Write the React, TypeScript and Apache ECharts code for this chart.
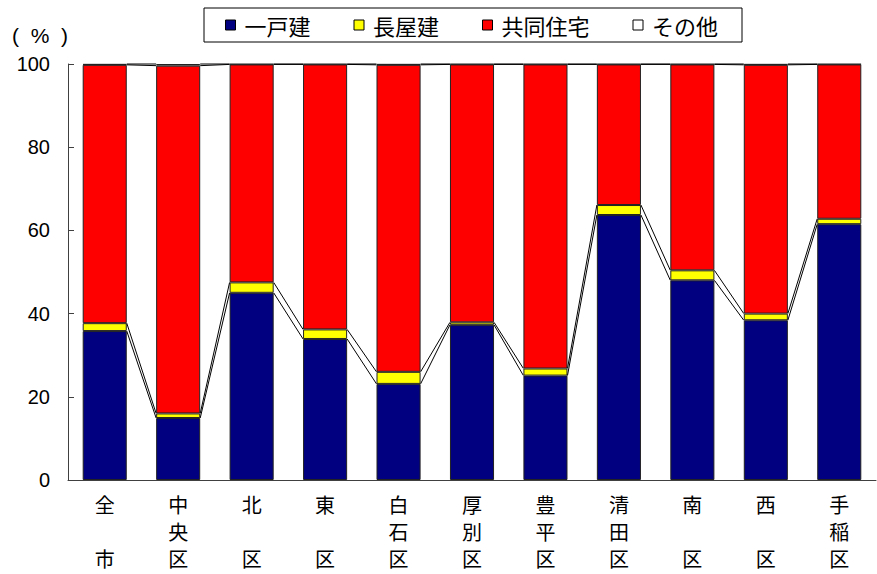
import React, { useEffect, useRef } from "react";
import * as echarts from "echarts";

// 区別の住宅の建て方別割合（%）
const categories = ["全\n\n市", "中\n央\n区", "北\n\n区", "東\n\n区", "白\n石\n区", "厚\n別\n区", "豊\n平\n区", "清\n田\n区", "南\n\n区", "西\n\n区", "手\n稲\n区"];
const detached = [35.8, 14.9, 45.0, 33.9, 23.1, 37.3, 25.1, 63.7, 48.0, 38.4, 61.5];
const rowHouse = [1.9, 1.1, 2.5, 2.3, 2.9, 0.6, 1.7, 2.4, 2.4, 1.6, 1.3];
const apartment = [62.1, 83.6, 52.4, 63.7, 73.8, 62.0, 73.1, 33.8, 49.5, 59.8, 37.1];
const other = [0.2, 0.4, 0.1, 0.1, 0.2, 0.1, 0.1, 0.1, 0.1, 0.2, 0.1];
const yTicks = { min: 0, max: 100, interval: 20 };

const seriesNames = ["一戸建", "長屋建", "共同住宅", "その他"];
const seriesColors = ["#000080", "#FFFF00", "#FF0000", "#FFFFFF"];
const seriesData = [detached, rowHouse, apartment, other];

const NUM_FONT = "'Liberation Sans', Arial, 'Noto Sans CJK JP', sans-serif";
const JP_FONT = "'Noto Sans CJK JP', 'Liberation Sans', sans-serif";

export default function App() {
  const ref = useRef<HTMLDivElement>(null);

  useEffect(() => {
    document.body.style.margin = "0";
    if (!ref.current) return;
    const chart = echarts.init(ref.current, undefined, { renderer: "svg" });

    // cumulative tops of each stacked layer, used for the series lines
    const tops: number[][] = seriesData.map(() => []);
    for (let i = 0; i < categories.length; i++) {
      let acc = 0;
      seriesData.forEach((arr, k) => {
        acc += arr[i];
        tops[k].push(acc);
      });
    }
    const lineData: number[][] = [];
    for (let i = 0; i < categories.length - 1; i++) {
      const row: number[] = [i];
      tops.forEach((t) => row.push(t[i], t[i + 1]));
      lineData.push(row);
    }

    const barSeries = seriesNames.map((name, k) => ({
      name,
      type: "bar",
      stack: "total",
      barCategoryGap: "40%",
      data: seriesData[k],
      itemStyle: { color: seriesColors[k], borderColor: "#222", borderWidth: 1 },
      emphasis: { disabled: true },
    }));

    chart.setOption({
      animation: false,
      grid: { left: 68, right: 1, top: 64, bottom: 94 },
      legend: {
        left: 204,
        top: 8,
        data: seriesNames.map((name) => ({ name, icon: "rect" })),
        itemWidth: 10,
        itemHeight: 10,
        itemGap: 43,
        padding: [6, 24, 6, 21],
        borderColor: "#000",
        borderWidth: 1,
        itemStyle: { borderColor: "#000", borderWidth: 1 },
        textStyle: { fontSize: 22, color: "#000", fontFamily: JP_FONT, padding: [0, 0, 0, 4] },
        selectedMode: false,
      },
      graphic: [
        {
          type: "text",
          left: 12,
          top: 25,
          style: { text: "(  %  )", fontSize: 21, fill: "#000", fontFamily: NUM_FONT },
        },
      ],
      xAxis: {
        type: "category",
        data: categories,
        axisLine: { show: true, lineStyle: { color: "#404040", width: 1 } },
        axisTick: { show: false },
        axisLabel: {
          fontSize: 20,
          lineHeight: 27,
          color: "#000",
          fontFamily: JP_FONT,
          margin: 11,
          interval: 0,
        },
      },
      yAxis: {
        type: "value",
        min: yTicks.min,
        max: yTicks.max,
        interval: yTicks.interval,
        splitLine: { show: false },
        axisLine: { show: true, lineStyle: { color: "#404040", width: 1 } },
        axisTick: { show: true, inside: true, length: 6, lineStyle: { color: "#404040" } },
        axisLabel: { fontSize: 20, color: "#000", fontFamily: NUM_FONT, margin: 18 },
      },
      series: [
        ...barSeries,
        {
          type: "custom",
          name: "series-lines",
          z: 5,
          silent: true,
          data: lineData,
          encode: { x: 0, y: 1 },
          renderItem: (_params: any, api: any) => {
            const i = api.value(0);
            const half = api.size([1, 0])[0] * 0.3;
            const children: any[] = [];
            for (let k = 0; k < seriesNames.length; k++) {
              const p0 = api.coord([i, api.value(1 + 2 * k)]);
              const p1 = api.coord([i + 1, api.value(2 + 2 * k)]);
              children.push({
                type: "line",
                shape: { x1: p0[0] + half, y1: p0[1], x2: p1[0] - half, y2: p1[1] },
                style: { stroke: "#000", lineWidth: 1 },
              });
            }
            return { type: "group", children };
          },
        },
      ],
    });

    return () => chart.dispose();
  }, []);

  return <div ref={ref} style={{ width: 877, height: 574 }} />;
}
